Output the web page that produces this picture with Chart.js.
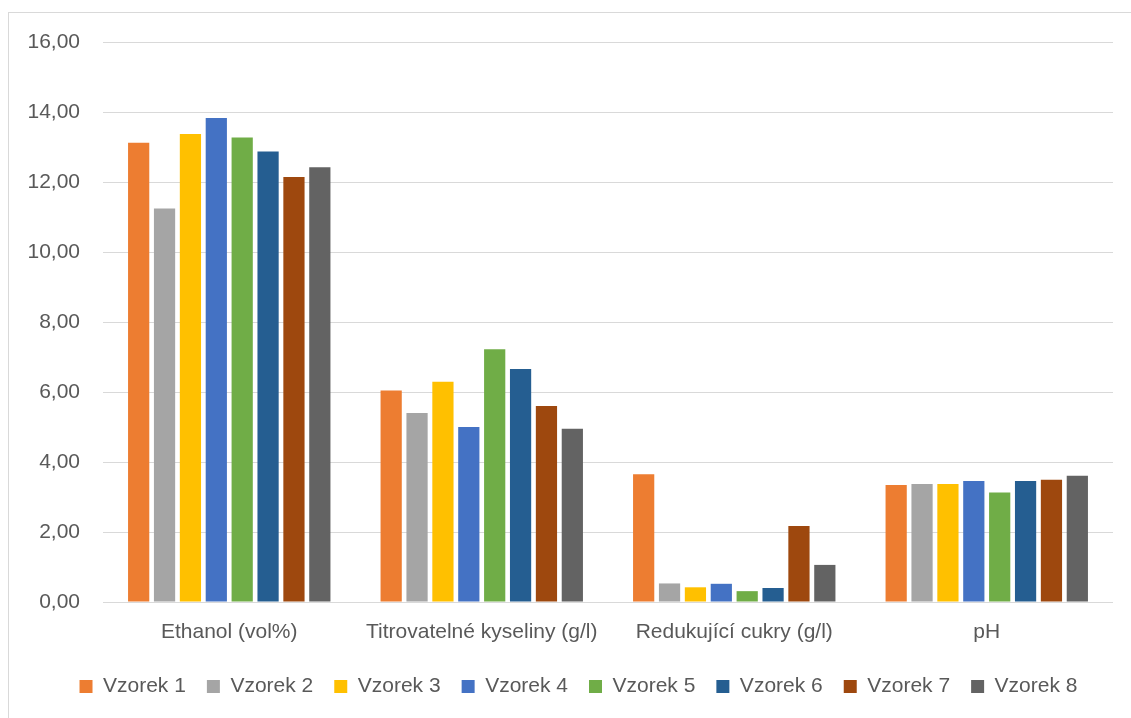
<!DOCTYPE html>
<html>
<head>
<meta charset="utf-8">
<script src="https://cdn.jsdelivr.net/npm/chart.js@4.4.0/dist/chart.umd.min.js"></script>
<style>
  html, body { margin: 0; padding: 0; background: #ffffff; }
  #wrap { width: 1131px; height: 718px; position: relative; }
</style>
</head>
<body>
<div id="wrap"><canvas id="chart" width="1131" height="718"></canvas></div>
<script>
// Kategorie a naměřené hodnoty vzorků
const categories = ['Ethanol (vol%)', 'Titrovatelné kyseliny (g/l)', 'Redukující cukry (g/l)', 'pH'];
const vzorek1 = [13.12, 6.04, 3.65, 3.34];
const vzorek2 = [11.24, 5.40, 0.53, 3.37];
const vzorek3 = [13.37, 6.29, 0.42, 3.37];
const vzorek4 = [13.83, 5.00, 0.52, 3.46];
const vzorek5 = [13.27, 7.22, 0.31, 3.13];
const vzorek6 = [12.87, 6.66, 0.40, 3.46];
const vzorek7 = [12.14, 5.60, 2.17, 3.49];
const vzorek8 = [12.42, 4.95, 1.06, 3.61];
const seriesNames = ['Vzorek 1', 'Vzorek 2', 'Vzorek 3', 'Vzorek 4', 'Vzorek 5', 'Vzorek 6', 'Vzorek 7', 'Vzorek 8'];
const yTicks = [0, 2, 4, 6, 8, 10, 12, 14, 16];

const seriesValues = [vzorek1, vzorek2, vzorek3, vzorek4, vzorek5, vzorek6, vzorek7, vzorek8];
const colors = ['#ED7D31', '#A5A5A5', '#FFC000', '#4472C4', '#70AD47', '#255E91', '#9E480E', '#636363'];

const FONT = '"Liberation Sans", Arial, sans-serif';
const TEXT = '#595959';

// Rámeček kolem celé plochy grafu
const frame = {
  id: 'frame',
  beforeDraw(chart) {
    const ctx = chart.ctx;
    ctx.save();
    ctx.strokeStyle = '#d9d9d9';
    ctx.lineWidth = 1;
    ctx.strokeRect(8.5, 12.5, chart.width + 40, chart.height + 40);
    ctx.restore();
  }
};

// Legenda je vystředěná vůči celému rámečku, ne jen vůči plátnu
const legendShift = {
  id: 'legendShift',
  afterLayout(chart) {
    const lg = chart.legend;
    if (lg) { lg.left += 22; lg.right += 22; }
  }
};

new Chart(document.getElementById('chart'), {
  type: 'bar',
  data: {
    labels: categories,
    datasets: seriesValues.map((vals, i) => ({
      label: seriesNames[i],
      data: vals,
      backgroundColor: colors[i],
      borderWidth: 0,
      categoryPercentage: 0.82,
      barPercentage: 0.82
    }))
  },
  options: {
    responsive: false,
    animation: false,
    devicePixelRatio: 1,
    layout: { padding: { top: 42, left: 0, right: 18, bottom: 11 } },
    plugins: {
      legend: {
        position: 'bottom',
        labels: {
          color: TEXT,
          font: { family: FONT, size: 21 },
          boxWidth: 13,
          boxHeight: 13,
          padding: 21
        }
      },
      tooltip: { enabled: false }
    },
    scales: {
      x: {
        grid: { display: false, drawTicks: false },
        border: { display: false },
        ticks: { color: TEXT, font: { family: FONT, size: 21 }, padding: 18, maxRotation: 0, autoSkip: false },
        afterFit(scale) { scale.height = 53; }
      },
      y: {
        min: 0,
        max: 16,
        afterBuildTicks(scale) { scale.ticks = yTicks.map(v => ({ value: v })); },
        grid: { color: '#d9d9d9', lineWidth: 1, drawTicks: false },
        border: { display: false },
        ticks: {
          color: TEXT,
          font: { family: FONT, size: 21 },
          padding: 23,
          callback: v => Number(v).toFixed(2).replace('.', ',')
        },
        afterFit(scale) { scale.width = 103; }
      }
    }
  },
  plugins: [frame, legendShift]
});
</script>
</body>
</html>
